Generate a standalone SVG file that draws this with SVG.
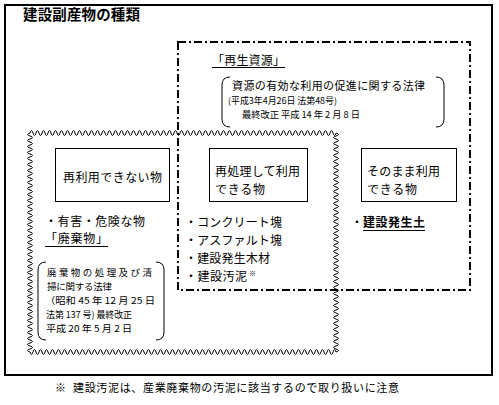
<svg xmlns="http://www.w3.org/2000/svg" width="499" height="405" viewBox="0 0 499 405">
<style>
text{font-family:"Noto Sans CJK JP","Noto Sans CJK SC",sans-serif;fill:#000}
.s{font-size:9.5px}
.s9{font-size:9px}
.m{font-size:12px}
.f{font-size:11px}
.t{font-size:14.5px;font-weight:bold}
.k{font-size:7px}
.b{font-weight:bold}
.box{fill:#fff;stroke:#000;stroke-width:1}
.ln{fill:none;stroke:#000;stroke-width:1}
</style>
<rect width="499" height="405" fill="#fff"/>
<g id="frame">
<rect x="5" y="5" width="487" height="370" fill="none" stroke="#000" stroke-width="2"/>
<text class="t" x="23" y="20" textLength="117">建設副産物の種類</text>
</g>
<g id="connectors">
<rect x="178" y="42" width="292" height="248" fill="none" stroke="#000" stroke-width="2" stroke-dasharray="8 3 2 3"/>
<path class="ln" d="M30 133 q1.5 -5 3 0
t3 0 t3 0 t3 0 t3 0 t3 0 t3 0 t3 0 t3 0 t3 0 t3 0
t3 0 t3 0 t3 0 t3 0 t3 0 t3 0 t3 0 t3 0 t3 0 t3 0
t3 0 t3 0 t3 0 t3 0 t3 0 t3 0 t3 0 t3 0 t3 0 t3 0
t3 0 t3 0 t3 0 t3 0 t3 0 t3 0 t3 0 t3 0 t3 0 t3 0
t3 0 t3 0 t3 0 t3 0 t3 0 t3 0 t3 0 t3 0 t3 0 t3 0
t3 0 t3 0 t3 0 t3 0 t3 0 t3 0 t3 0 t3 0 t3 0 t3 0
t3 0 t3 0 t3 0 t3 0 t3 0 t3 0 t3 0 t3 0 t3 0 t3 0
t3 0 t3 0 t3 0 t3 0 t3 0 t3 0 t3 0 t3 0 t3 0 t3 0
t3 0 t3 0 t3 0 t3 0 t3 0 t3 0 t3 0 t3 0 t3 0 t3 0
t3 0 t3 0 t3 0 t3 0 t3 0 t3 0 t3 0 t3 0 t3 0 t3 0
t3 0
M30 352 q1.5 5 3 0
t3 0 t3 0 t3 0 t3 0 t3 0 t3 0 t3 0 t3 0 t3 0 t3 0
t3 0 t3 0 t3 0 t3 0 t3 0 t3 0 t3 0 t3 0 t3 0 t3 0
t3 0 t3 0 t3 0 t3 0 t3 0 t3 0 t3 0 t3 0 t3 0 t3 0
t3 0 t3 0 t3 0 t3 0 t3 0 t3 0 t3 0 t3 0 t3 0 t3 0
t3 0 t3 0 t3 0 t3 0 t3 0 t3 0 t3 0 t3 0 t3 0 t3 0
t3 0 t3 0 t3 0 t3 0 t3 0 t3 0 t3 0 t3 0 t3 0 t3 0
t3 0 t3 0 t3 0 t3 0 t3 0 t3 0 t3 0 t3 0 t3 0 t3 0
t3 0 t3 0 t3 0 t3 0 t3 0 t3 0 t3 0 t3 0 t3 0 t3 0
t3 0 t3 0 t3 0 t3 0 t3 0 t3 0 t3 0 t3 0 t3 0 t3 0
t3 0 t3 0 t3 0 t3 0 t3 0 t3 0 t3 0 t3 0 t3 0 t3 0
t3 0
M336 133 q5 1.5 0 3
t0 3 t0 3 t0 3 t0 3 t0 3 t0 3 t0 3 t0 3 t0 3 t0 3
t0 3 t0 3 t0 3 t0 3 t0 3 t0 3 t0 3 t0 3 t0 3 t0 3
t0 3 t0 3 t0 3 t0 3 t0 3 t0 3 t0 3 t0 3 t0 3 t0 3
t0 3 t0 3 t0 3 t0 3 t0 3 t0 3 t0 3 t0 3 t0 3 t0 3
t0 3 t0 3 t0 3 t0 3 t0 3 t0 3 t0 3 t0 3 t0 3 t0 3
t0 3 t0 3 t0 3 t0 3 t0 3 t0 3 t0 3 t0 3 t0 3 t0 3
t0 3 t0 3 t0 3 t0 3 t0 3 t0 3 t0 3 t0 3 t0 3 t0 3
t0 3 t0 3
M30 133 q-5 1.5 0 3
t0 3 t0 3 t0 3 t0 3 t0 3 t0 3 t0 3 t0 3 t0 3 t0 3
t0 3 t0 3 t0 3 t0 3 t0 3 t0 3 t0 3 t0 3 t0 3 t0 3
t0 3 t0 3 t0 3 t0 3 t0 3 t0 3 t0 3 t0 3 t0 3 t0 3
t0 3 t0 3 t0 3 t0 3 t0 3 t0 3 t0 3 t0 3 t0 3 t0 3
t0 3 t0 3 t0 3 t0 3 t0 3 t0 3 t0 3 t0 3 t0 3 t0 3
t0 3 t0 3 t0 3 t0 3 t0 3 t0 3 t0 3 t0 3 t0 3 t0 3
t0 3 t0 3 t0 3 t0 3 t0 3 t0 3 t0 3 t0 3 t0 3 t0 3
t0 3 t0 3"/>
</g>
<g id="saisei">
<text class="m" x="212" y="65" textLength="73">「再生資源」</text>
<line class="ln" x1="212" y1="67.5" x2="285" y2="67.5"/>
<path class="ln" d="M230 77 Q222 77 222 85 V119 Q222 127 230 127 M436 77 Q444 77 444 85 V119 Q444 127 436 127"/>
<text class="f" x="232" y="90" textLength="193">資源の有効な利用の促進に関する法律</text>
<text class="s9" x="228" y="104" textLength="109" lengthAdjust="spacingAndGlyphs">(平成3年4月26日 法第48号)</text>
<text class="s" x="242" y="117.5" textLength="118" lengthAdjust="spacingAndGlyphs">最終改正 平成 14 年 2 月 8 日</text>
</g>
<g id="box1">
<rect class="box" x="55.5" y="148.5" width="114" height="53"/>
<text class="m" x="63" y="182" textLength="99">再利用できない物</text>
</g>
<g id="box2">
<rect class="box" x="209.5" y="148.5" width="98" height="53"/>
<text class="m" x="215" y="176" textLength="85">再処理して利用</text>
<text class="m" x="215" y="194" textLength="50">できる物</text>
</g>
<g id="box3">
<rect class="box" x="361.5" y="148.5" width="95" height="53"/>
<text class="m" x="367" y="176" textLength="73">そのまま利用</text>
<text class="m" x="367" y="194" textLength="50">できる物</text>
</g>
<g id="haikibutsu">
<text class="m" x="45" y="226" textLength="100">・有害・危険な物</text>
<text class="m" x="45" y="243" textLength="63">「廃棄物」</text>
<line class="ln" x1="45" y1="246.5" x2="108" y2="246.5"/>
<path class="ln" d="M46 262 Q38 262 38 270 V332 Q38 340 46 340 M156 262 Q164 262 164 270 V332 Q164 340 156 340"/>
<text class="s" x="47" y="276" textLength="105">廃棄物の処理及び清</text>
<text class="s" x="47" y="290" textLength="65">掃に関する法律</text>
<text class="s" x="45" y="304" textLength="110" lengthAdjust="spacingAndGlyphs">（昭和 45 年 12 月 25 日</text>
<text class="s" x="46" y="318" textLength="86" lengthAdjust="spacingAndGlyphs">法第 137 号) 最終改正</text>
<text class="s" x="46" y="332" textLength="86" lengthAdjust="spacingAndGlyphs">平成 20 年 5 月 2 日</text>
</g>
<g id="list-mid">
<text class="m" x="185" y="227" textLength="97">・コンクリート塊</text>
<text class="m" x="185" y="245" textLength="97">・アスファルト塊</text>
<text class="m" x="185" y="263" textLength="85">・建設発生木材</text>
<text class="m" x="185" y="281" textLength="62">・建設汚泥</text>
<text class="k" x="249" y="276">※</text>
</g>
<g id="list-right">
<text class="m" x="351" y="227">・</text>
<text class="m b" x="363" y="227" textLength="62">建設発生土</text>
<line class="ln" x1="363" y1="230.5" x2="425" y2="230.5"/>
</g>
<g id="note">
<text class="f" x="55" y="392">※</text>
<text class="f" x="73" y="392" textLength="326">建設汚泥は、産業廃棄物の汚泥に該当するので取り扱いに注意</text>
</g>
</svg>
